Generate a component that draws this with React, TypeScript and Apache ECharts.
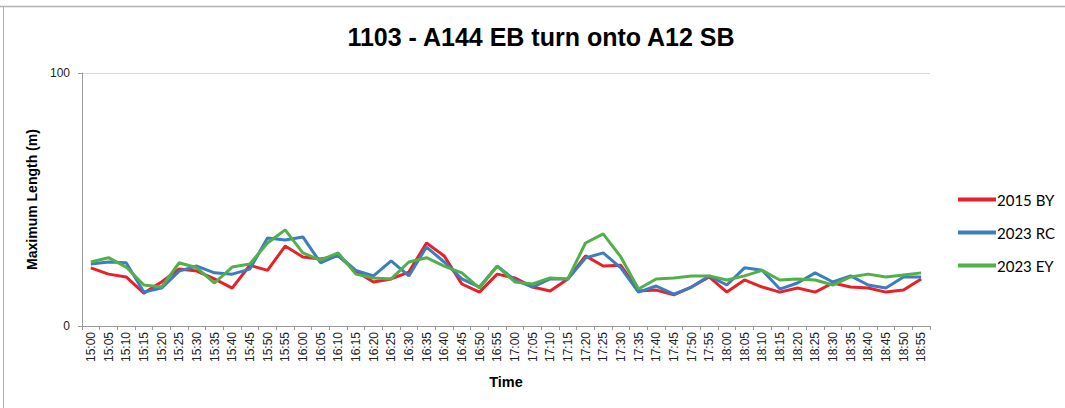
import React, { useEffect, useRef } from "react";
import * as echarts from "echarts";

const categories: string[] = [
  "15:00","15:05","15:10","15:15","15:20","15:25","15:30","15:35","15:40","15:45","15:50","15:55",
  "16:00","16:05","16:10","16:15","16:20","16:25","16:30","16:35","16:40","16:45","16:50","16:55",
  "17:00","17:05","17:10","17:15","17:20","17:25","17:30","17:35","17:40","17:45","17:50","17:55",
  "18:00","18:05","18:10","18:15","18:20","18:25","18:30","18:35","18:40","18:45","18:50","18:55",
];

const by2015: number[] = [
  23, 20.5, 19.4, 13, 17.4, 22.5, 21.7, 18.6, 15, 24, 22, 31.6,
  27.3, 26.5, 27.7, 21.7, 17.4, 18.6, 21.3, 32.8, 27.7, 16.6, 13.4, 20.5,
  19, 15.4, 13.8, 18.6, 27.7, 23.7, 24, 13.8, 14.2, 12.3, 15.4, 19.4,
  13.4, 18.2, 15.4, 13.4, 15, 13.4, 17, 15.4, 15, 13.4, 14.2, 18.6,
];

const rc2023: number[] = [
  24.5, 25.3, 25, 13.4, 15, 21.7, 23.7, 21, 20.5, 22.5, 34.8, 34,
  35.2, 25, 28, 22, 19.8, 25.7, 19.8, 31.2, 25.3, 18.6, 15.4, 23.7,
  18.2, 15.4, 18.6, 18.6, 26.9, 28.9, 23, 13.4, 15.8, 12.6, 15.4, 19.8,
  16.2, 23, 22, 14.6, 17, 21, 17.4, 19.8, 16.2, 15, 19.4, 19.4,
];

const ey2023: number[] = [
  25.3, 27, 23.3, 16.2, 15.4, 25, 23, 17, 23.3, 24.5, 32.8, 38,
  28.9, 26, 28.9, 20.5, 19, 18.6, 25.3, 27, 23.7, 21, 15, 23.7,
  17.4, 16.6, 19, 18.6, 32.8, 36.4, 27.3, 14.6, 18.6, 19, 19.8, 19.8,
  18.2, 19.8, 22, 18.2, 18.6, 18.2, 16.2, 19.4, 20.5, 19.4, 20.2, 21,
];

const seriesNames = ["2015 BY", "2023 RC", "2023 EY"];
const seriesColors = ["#E8202A", "#3B7DC0", "#52B04A"];
const yTicks = [0, 100];

export default function App() {
  const ref = useRef<HTMLDivElement>(null);

  useEffect(() => {
    document.body.style.margin = "0";
    if (!ref.current) return;
    const chart = echarts.init(ref.current, null, { renderer: "svg" });
    const data = [by2015, rc2023, ey2023];
    chart.setOption({
      animation: false,
      backgroundColor: "#ffffff",
      title: {
        text: "1103 - A144 EB turn onto A12 SB",
        left: 536,
        textAlign: "center",
        top: 19,
        textStyle: {
          fontFamily: "Liberation Sans, Arial, sans-serif",
          fontSize: 25,
          fontWeight: "bold",
          color: "#000",
        },
      },
      graphic: [
        { type: "line", shape: { x1: 0, y1: 6.5, x2: 1065, y2: 6.5 }, style: { stroke: "#b0b0b0", lineWidth: 1.5 } },
        { type: "line", shape: { x1: 3.5, y1: 6, x2: 3.5, y2: 408 }, style: { stroke: "#b0b0b0", lineWidth: 1 } },
      ],
      legend: {
        orient: "vertical",
        left: 953,
        top: 187,
        itemGap: 18,
        itemWidth: 38,
        itemHeight: 4,
        icon: "rect",
        data: seriesNames,
        textStyle: {
          fontFamily: "Lato, Carlito, sans-serif",
          fontSize: 15,
          color: "#000",
          padding: [0, 0, 0, -4],
        },
      },
      grid: { left: 82, right: 135, top: 73, bottom: 82, containLabel: false },
      xAxis: {
        type: "category",
        data: categories,
        boundaryGap: true,
        name: "Time",
        nameLocation: "middle",
        nameGap: 48,
        nameTextStyle: {
          fontFamily: "Liberation Sans, Arial, sans-serif",
          fontSize: 14.5,
          fontWeight: "bold",
          color: "#000",
        },
        axisLine: { lineStyle: { color: "#9a9a9a", width: 1 } },
        axisTick: { show: true, length: 4, lineStyle: { color: "#9a9a9a" } },
        axisLabel: {
          interval: 0,
          rotate: 90,
          fontFamily: "Liberation Sans, Arial, sans-serif",
          fontSize: 12,
          color: "#222",
          margin: 6,
        },
        splitLine: { show: false },
      },
      yAxis: {
        type: "value",
        min: yTicks[0],
        max: yTicks[1],
        interval: 100,
        name: "Maximum Length (m)",
        nameLocation: "middle",
        nameGap: 34,
        nameTextStyle: {
          fontFamily: "Liberation Sans, Arial, sans-serif",
          fontSize: 14,
          fontWeight: "bold",
          color: "#000",
        },
        axisLine: { show: true, lineStyle: { color: "#9a9a9a", width: 1 } },
        axisTick: { show: true, length: 4, lineStyle: { color: "#9a9a9a" } },
        axisLabel: {
          fontFamily: "Liberation Sans, Arial, sans-serif",
          fontSize: 12,
          color: "#222",
          margin: 12,
        },
        splitLine: { show: true, lineStyle: { color: "#d9d9d9", width: 1 } },
      },
      series: seriesNames.map((name, i) => ({
        name,
        type: "line",
        data: data[i],
        showSymbol: false,
        symbol: "none",
        lineStyle: { color: seriesColors[i], width: 3 },
        itemStyle: { color: seriesColors[i] },
      })),
    });
    return () => chart.dispose();
  }, []);

  return <div ref={ref} style={{ width: 1065, height: 408 }} />;
}
